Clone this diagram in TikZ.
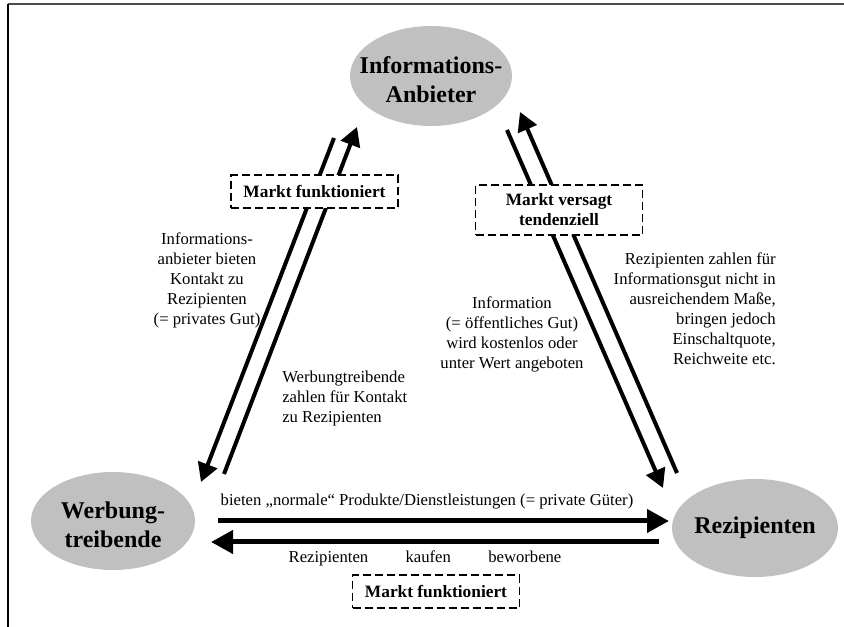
\documentclass[tikz,border=0pt]{standalone}
\usepackage{fontspec}
\setmainfont{Liberation Serif}
\usetikzlibrary{shapes.geometric,arrows.meta}
\definecolor{ellgray}{RGB}{192,192,192}

\begin{document}
\begin{tikzpicture}[x=0.75pt,y=-0.75pt,
  party/.style={ellipse,fill=ellgray,inner sep=0pt},
  partyname/.style={inner sep=0pt,align=center,font=\fontsize{18}{22}\selectfont\bfseries},
  markt/.style={draw,line width=1.2pt,dash pattern=on 6pt off 3pt,fill=white,align=center,
    inner sep=0pt,minimum width=125pt,font=\fontsize{13}{15}\selectfont\bfseries},
  txt/.style={inner sep=0pt,align=center,font=\fontsize{12.5}{15}\selectfont},
  flow/.style={line width=3pt,-{Triangle[length=14pt,width=15pt]}},
  trade/.style={line width=3.75pt,-{Triangle[length=16.5pt,width=17pt]}}]
\useasboundingbox (0,0) rectangle (844,627);
\draw[line width=1.5pt,black!70] (8,4) -- (844,4);
\draw[line width=1.1pt] (8,4) -- (8,627);

\node[party,minimum width=121.5pt,minimum height=75pt] (anb) at (431,76) {};
\node[partyname] (anbname) at (431,80) {Informations-\\Anbieter};
\node[party,minimum width=123pt,minimum height=73.5pt] (wt) at (113,521) {};
\node[partyname] (wtname) at (113,525) {Werbung-\\treibende};
\node[party,minimum width=124.5pt,minimum height=73.5pt] (rez) at (755,528) {};
\node[partyname] (rezname) at (rez) {Rezipienten};

\coordinate (la1) at (334,138);
\coordinate (la2) at (201,482);
\coordinate (lb1) at (224,474);
\coordinate (lb2) at (357,127);
\coordinate (ra1) at (507,130);
\coordinate (ra2) at (663,488);
\coordinate (rb1) at (677,473);
\coordinate (rb2) at (520,112);
\coordinate (ba1) at (218,521);
\coordinate (ba2) at (669,521);
\coordinate (bb1) at (659,542);
\coordinate (bb2) at (211,542);

\draw[flow] (la1) -- (la2);
\draw[flow] (lb1) -- (lb2);
\draw[flow] (ra1) -- (ra2);
\draw[flow] (rb1) -- (rb2);
\draw[trade] (ba1) -- (ba2);
\draw[trade] (bb1) -- (bb2);

\node[markt,minimum height=24.75pt] (mf1) at (314.5,191.5) {Markt funktioniert};
\node[markt,minimum height=37.5pt] (mv) at (559,210) {Markt versagt\\tendenziell};
\node[markt,minimum height=24.75pt] (mf2) at (436,591.5) {Markt funktioniert};

\node[txt] (anbieten) at (207,280) {Informations-\\anbieter bieten\\Kontakt zu\\Rezipienten\\(= privates Gut)};
\node[txt,align=left,anchor=west] (zahlen) at (282,398) {Werbungtreibende\\zahlen für Kontakt\\zu Rezipienten};
\node[txt] (oeffentl) at (512,334) {Information\\(= öffentliches Gut)\\wird kostenlos oder\\unter Wert angeboten};
\node[txt,align=right,anchor=east] (quote) at (776,309) {Rezipienten zahlen für\\Informationsgut nicht in\\ausreichendem Maße,\\bringen jedoch\\Einschaltquote,\\Reichweite etc.};
\node[txt] (produkte) at (427,502) {bieten „normale“ Produkte/Dienstleistungen (= private Güter)};
\node[txt] (kaufen) at (425,558) {Rezipienten\hspace{28pt}kaufen\hspace{28pt}beworbene};
\end{tikzpicture}
\end{document}
